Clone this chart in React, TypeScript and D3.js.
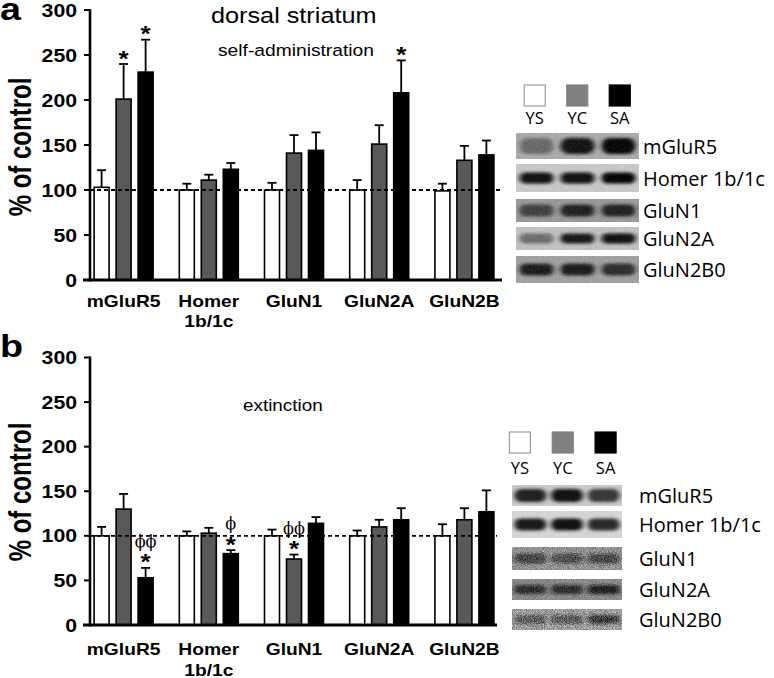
import React from 'react';
import * as d3 from 'd3';

// ---------- DATA ----------
const categories = ['mGluR5', 'Homer|1b/1c', 'GluN1', 'GluN2A', 'GluN2B'];
const seriesNames = ['YS', 'YC', 'SA'];
const yTicks = [0, 50, 100, 150, 200, 250, 300];

// panel a: self-administration
const saYS = [103, 100, 100, 100, 99];
const saYSerr = [19, 7, 8, 11, 8];
const saYC = [201, 111, 141, 151, 133];
const saYCerr = [39, 6, 20, 21, 16];
const saSA = [231, 123, 144, 208, 139];
const saSAerr = [36, 7, 20, 36, 16];

// panel b: extinction
const exYS = [100, 100, 100, 100, 100];
const exYSerr = [10, 5, 7, 6, 13];
const exYC = [130, 103, 74, 110, 118];
const exYCerr = [17, 6, 5, 8, 13];
const exSA = [53, 80, 114, 118, 127];
const exSAerr = [11, 4, 7, 13, 24];

// significance marks: category index, series index, star, phi text
const saMarks = [
  { cat: 0, series: 1, star: true, phi: '' },
  { cat: 0, series: 2, star: true, phi: '' },
  { cat: 3, series: 2, star: true, phi: '' },
];
const exMarks = [
  { cat: 0, series: 2, star: true, phi: 'ϕϕ' },
  { cat: 1, series: 2, star: true, phi: 'ϕ' },
  { cat: 2, series: 1, star: true, phi: 'ϕϕ' },
];

// western blot rows (band darkness per lane YS, YC, SA)
const blotLabels = ['mGluR5', 'Homer 1b/1c', 'GluN1', 'GluN2A', 'GluN2B0'];
const saBands = [
  [0.4, 0.92, 1.0],
  [0.95, 0.95, 1.0],
  [0.6, 0.8, 0.8],
  [0.45, 0.9, 0.95],
  [0.85, 0.85, 0.75],
];
const exBands = [
  [0.85, 0.95, 0.75],
  [0.9, 0.92, 0.82],
  [0.7, 0.62, 0.68],
  [0.8, 0.8, 0.95],
  [0.55, 0.6, 0.85],
];

// ---------- STYLE / LAYOUT ----------
const SX = 1.18;
const FONT = "'Liberation Sans', Arial, Helvetica, sans-serif";
const BLOTFONT = "'Open Sans', 'Noto Sans', sans-serif";
const barFills = ['#ffffff', '#595959', '#000000'];
const legendFills = ['#ffffff', '#808080', '#000000'];
const legendStrokes = ['#9a9a9a', '#808080', '#000000'];

const layoutA = {
  yBottom: 280, yTop: 10, axisEnd: 502, catBase: 306.5, letterY: 20, ylabY: 147,
  title: { text: 'dorsal striatum', x: 211, y: 23, size: 21.4 },
  sub: { text: 'self-administration', x: 218, y: 56, size: 16.3 },
  blot: {
    x0: 516, x1: 639, leg0: 513.5, leg1: 641, legY: 85, legH: 21, legLabY: 124, labX: 643,
    rows: [[133, 159], [164, 192], [199, 222], [227, 250], [256, 283]],
    bg: ['#b0b0b0', '#cdcdcd', '#9c9c9c', '#c6c6c6', '#a4a4a4'],
    bandH: [16, 11, 12, 10, 12], grain: [0.08, 0.06, 0.08, 0.06, 0.08], bandW: 34,
  },
};
const layoutB = {
  yBottom: 625, yTop: 357.5, axisEnd: 497, catBase: 655, letterY: 357, ylabY: 492,
  title: null,
  sub: { text: 'extinction', x: 243, y: 410.7, size: 16 },
  blot: {
    x0: 512, x1: 622, leg0: 498.5, leg1: 627, legY: 432, legH: 21, legLabY: 474, labX: 639,
    rows: [[485, 506], [511, 538], [547, 570], [579, 600], [609, 630]],
    bg: ['#cfcfcf', '#dadada', '#9a9a9a', '#8c8c8c', '#aeaeae'],
    bandH: [13, 12, 10, 9, 9], grain: [0.06, 0.05, 0.3, 0.2, 0.35], bandW: 32,
  },
};

function SText({ x, y, size, weight = 'normal', anchor = 'start', children, sx = SX, family = FONT }: any) {
  return (
    <text transform={`translate(${x},${y}) scale(${sx},1)`} fontSize={size} fontWeight={weight}
      textAnchor={anchor} fontFamily={family} fill="#000">{children}</text>
  );
}

function BarPanel({ L, letter, means, errs, marks }: any) {
  const y = d3.scaleLinear().domain([0, 300]).range([L.yBottom, L.yTop]);
  const x = d3.scaleBand<number>().domain(d3.range(categories.length)).range([81, 507]);
  const xs = d3.scaleBand<number>().domain(d3.range(3)).range([-33, 33]).paddingInner(0.318).paddingOuter(0.159);
  const cx = (c: number, s: number) => (x(c) as number) + x.bandwidth() / 2 + (xs(s) as number) + xs.bandwidth() / 2;
  return (
    <g>
      <SText x={0} y={L.letterY} size={32} weight="bold">{letter}</SText>
      <text transform={`translate(31,${L.ylabY}) rotate(-90) scale(1,1.3)`} textAnchor="middle"
        fontSize={24} fontWeight="bold" fontFamily={FONT}>% of control</text>
      {L.title && <SText x={L.title.x} y={L.title.y} size={L.title.size}>{L.title.text}</SText>}
      <SText x={L.sub.x} y={L.sub.y} size={L.sub.size}>{L.sub.text}</SText>
      {/* bars */}
      {means.map((arr: number[], s: number) => arr.map((v, c) => {
        const w = xs.bandwidth();
        const left = cx(c, s) - w / 2;
        return (
          <rect key={`b${s}-${c}`} x={left} y={y(v)} width={w} height={L.yBottom - y(v)}
            fill={barFills[s]} stroke="#000" strokeWidth={1.6} />
        );
      }))}
      {/* error bars */}
      {means.map((arr: number[], s: number) => arr.map((v, c) => {
        const top = y(v + errs[s][c]);
        const xc = cx(c, s);
        return (
          <g key={`e${s}-${c}`} stroke="#000" strokeWidth={1.8}>
            <line x1={xc} x2={xc} y1={y(v)} y2={top} />
            <line x1={xc - 4.5} x2={xc + 4.5} y1={top} y2={top} />
          </g>
        );
      }))}
      {/* reference line */}
      <line x1={90} x2={L.axisEnd} y1={y(100)} y2={y(100)} stroke="#000" strokeWidth={1.8} strokeDasharray="4 3" />
      {/* axes */}
      <line x1={90} x2={90} y1={y(300) - 1} y2={L.yBottom + 1.5} stroke="#000" strokeWidth={2.6} />
      <line x1={83} x2={L.axisEnd} y1={L.yBottom} y2={L.yBottom} stroke="#000" strokeWidth={3} />
      {yTicks.map(t => (
        <g key={t}>
          <line x1={84} x2={90} y1={y(t)} y2={y(t)} stroke="#000" strokeWidth={2} />
          <SText x={77} y={y(t) + 6.5} size={18} weight="bold" anchor="end">{t}</SText>
        </g>
      ))}
      {categories.map((c, i) => {
        const parts = c.split('|');
        const xc = (x(i) as number) + x.bandwidth() / 2;
        return parts.map((p, k) => (
          <SText key={`${i}-${k}`} x={xc} y={L.catBase + k * 20.5} size={16.3} weight="bold" anchor="middle">{p}</SText>
        ));
      })}
      {/* significance marks */}
      {marks.map((m: any, i: number) => {
        const v = means[m.series][m.cat];
        const top = y(v + errs[m.series][m.cat]);
        const xc = cx(m.cat, m.series);
        const starC = top - 11;
        return (
          <g key={`m${i}`}>
            {m.star && <SText x={xc} y={starC + 12.5} size={22} weight="bold" anchor="middle">*</SText>}
            {m.phi && <text x={xc} y={starC - 15 + 5} fontSize={16} textAnchor="middle" fill="#000"
              fontFamily="'DejaVu Serif', 'Liberation Serif', serif">{m.phi}</text>}
          </g>
        );
      })}
    </g>
  );
}

function Blot({ B, bands, id }: any) {
  const lane = d3.scaleBand<number>().domain(d3.range(3)).range([B.x0, B.x1]);
  const leg = d3.scaleBand<number>().domain(d3.range(3)).range([B.leg0, B.leg1]);
  return (
    <g>
      {seriesNames.map((n, i) => {
        const c = (leg(i) as number) + leg.bandwidth() / 2;
        return (
          <g key={n}>
            <rect x={c - 10.5} y={B.legY} width={21} height={B.legH} fill={legendFills[i]}
              stroke={legendStrokes[i]} strokeWidth={1.2} />
            <text x={c} y={B.legLabY} textAnchor="middle" fontSize={16.5} fontFamily={BLOTFONT}>{n}</text>
          </g>
        );
      })}
      {bands.map((row: number[], r: number) => {
        const [t, b] = B.rows[r];
        const mid = (t + b) / 2;
        const cid = `${id}-clip-${r}`;
        return (
          <g key={r}>
            <clipPath id={cid}><rect x={B.x0} y={t} width={B.x1 - B.x0} height={b - t} /></clipPath>
            <g clipPath={`url(#${cid})`}>
              <rect x={B.x0} y={t} width={B.x1 - B.x0} height={b - t} fill={B.bg[r]} />
              {row.map((d, l) => {
                const c = (lane(l) as number) + lane.bandwidth() / 2;
                const h = B.bandH[r];
                return (
                  <rect key={l} x={c - B.bandW / 2} y={mid - h / 2} width={B.bandW} height={h} rx={h / 2}
                    fill={d3.interpolateRgb(B.bg[r], '#000000')(d)} filter="url(#bandBlur)" />
                );
              })}
              <rect x={B.x0} y={t} width={B.x1 - B.x0} height={b - t} fill="#888" filter="url(#grain)"
                opacity={B.grain[r]} />
            </g>
            <text x={B.labX} y={mid + 7.5} fontSize={20} fontFamily={BLOTFONT}>{blotLabels[r]}</text>
          </g>
        );
      })}
    </g>
  );
}

export default function App() {
  return (
    <svg width={774} height={678} style={{ position: 'absolute', left: 0, top: 0, background: '#fff' }}>
      <defs>
        <filter id="bandBlur" x="-50%" y="-150%" width="200%" height="400%">
          <feGaussianBlur stdDeviation="2.5 1.6" />
        </filter>
        <filter id="grain" x="0" y="0" width="100%" height="100%" colorInterpolationFilters="sRGB">
          <feTurbulence type="fractalNoise" baseFrequency="1.1" numOctaves={2} seed={7} result="t" />
          <feColorMatrix in="t" type="matrix"
            values="1.4 1.4 1.4 0 -1.6  1.4 1.4 1.4 0 -1.6  1.4 1.4 1.4 0 -1.6  0 0 0 0 1" />
        </filter>
      </defs>
      <rect width={774} height={678} fill="#fff" />
      <BarPanel L={layoutA} letter="a" means={[saYS, saYC, saSA]} errs={[saYSerr, saYCerr, saSAerr]} marks={saMarks} />
      <BarPanel L={layoutB} letter="b" means={[exYS, exYC, exSA]} errs={[exYSerr, exYCerr, exSAerr]} marks={exMarks} />
      <Blot B={layoutA.blot} bands={saBands} id="ba" />
      <Blot B={layoutB.blot} bands={exBands} id="bb" />
    </svg>
  );
}
